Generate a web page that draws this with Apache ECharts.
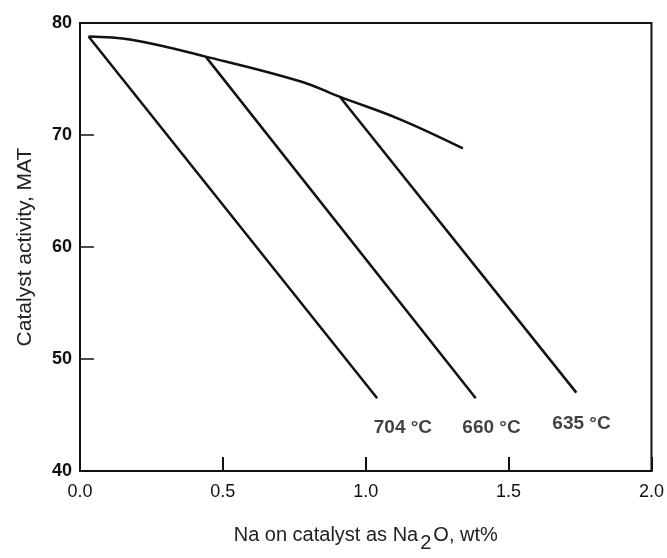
<!DOCTYPE html>
<html>
<head>
<meta charset="utf-8">
<script src="https://cdn.jsdelivr.net/npm/echarts@6/dist/echarts.min.js"></script>
<style>
html, body { margin: 0; padding: 0; background: #fff; }
#root { width: 667px; height: 558px; }
</style>
</head>
<body>
<div id="root"></div>
<script>
// activity ceiling curve (fresh catalyst)
const topCurve = [[0.03, 78.8], [0.18, 78.5], [0.44, 77.0], [0.77, 74.8], [0.91, 73.4], [1.12, 71.4], [1.34, 68.8]];
// deactivation lines for each regenerator temperature
const line704 = [[0.03, 78.8], [1.04, 46.5]];
const line660 = [[0.44, 77.0], [1.385, 46.5]];
const line635 = [[0.91, 73.4], [1.737, 47.0]];
const tempLabels = ['704 °C', '660 °C', '635 °C'];
const labelPos = [[1.13, 43.9], [1.44, 43.9], [1.755, 44.2]];

const font = 'Liberation Sans, Arial, sans-serif';
const lineStyle = { color: '#111', width: 2.5 };

let myChart = echarts.init(document.getElementById('root'));

function lineSeries(data, smooth) {
  return {
    type: 'line',
    data: data,
    smooth: smooth ? 0.4 : false,
    symbol: 'none',
    lineStyle: lineStyle,
    silent: true
  };
}

let option = {
  animation: false,
  grid: { left: 80, right: 15, top: 23, bottom: 75, show: true, borderColor: '#111', borderWidth: 2 },
  xAxis: {
    type: 'value',
    min: 0, max: 2, interval: 0.5,
    name: '{a|Na on catalyst as Na}{s|2}{a|O, wt%}',
    nameLocation: 'middle',
    nameGap: 46,
    nameTextStyle: {
      rich: {
        a: { fontFamily: font, fontSize: 20, color: '#222' },
        s: { fontFamily: font, fontSize: 20, color: '#222', padding: [16, 2, 0, 2] }
      }
    },
    axisLine: { show: true, lineStyle: { color: '#111', width: 2 } },
    axisTick: { show: true, inside: true, length: 14, lineStyle: { color: '#111', width: 2 } },
    axisLabel: { color: '#111', fontFamily: font, fontSize: 18, margin: 12, formatter: v => v.toFixed(1) },
    splitLine: { show: false }
  },
  yAxis: {
    type: 'value',
    min: 40, max: 80, interval: 10,
    name: 'Catalyst activity, MAT',
    nameLocation: 'middle',
    nameGap: 44,
    nameTextStyle: { fontFamily: font, fontSize: 21, color: '#222' },
    axisLine: { show: true, lineStyle: { color: '#111', width: 2 } },
    axisTick: { show: true, inside: true, length: 14, lineStyle: { color: '#111', width: 1.5 } },
    axisLabel: { color: '#111', fontFamily: font, fontSize: 18, fontWeight: 'bold', margin: 8 },
    splitLine: { show: false }
  },
  series: [
    lineSeries(topCurve, true),
    lineSeries(line704, false),
    lineSeries(line660, false),
    lineSeries(line635, false),
    {
      type: 'scatter',
      symbolSize: 0,
      silent: true,
      data: labelPos.map((p, i) => ({ value: p, name: tempLabels[i] })),
      label: {
        show: true,
        position: 'inside',
        formatter: p => p.name,
        fontFamily: 'Liberation Sans Narrow, Liberation Sans, Arial, sans-serif',
        fontSize: 19,
        fontWeight: 'bold',
        color: '#111'
      }
    }
  ]
};
myChart.setOption(option);
</script>
</body>
</html>
